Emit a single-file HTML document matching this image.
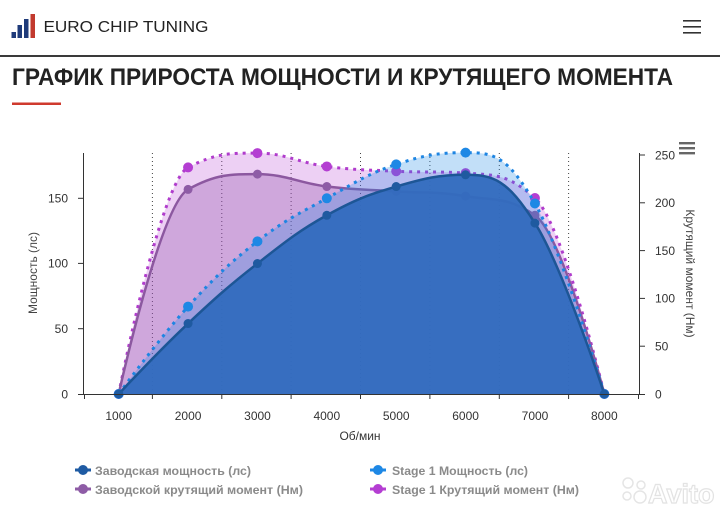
<!DOCTYPE html>
<html><head><meta charset="utf-8">
<style>
html,body{margin:0;padding:0;background:#fff;}
body{width:720px;height:517px;overflow:hidden;position:relative;font-family:"Liberation Sans",sans-serif;}
svg{position:absolute;left:0;top:0;}
</style></head>
<body>
<svg id="s" width="720" height="517" viewBox="0 0 720 517" xmlns="http://www.w3.org/2000/svg" font-family="Liberation Sans, sans-serif">
  <!-- header -->
  <rect x="11.5" y="32" width="4.5" height="6" fill="#1f3b7a"/>
  <rect x="17.5" y="25" width="4.5" height="13" fill="#1f3b7a"/>
  <rect x="24" y="19" width="4.5" height="19" fill="#1f3b7a"/>
  <rect x="30.5" y="14" width="4.5" height="24" fill="#c23a2e"/>
  <text x="43.5" y="32" font-size="15.5" fill="#222" textLength="165" lengthAdjust="spacingAndGlyphs">EURO CHIP TUNING</text>
  <rect x="683" y="20" width="18" height="1.6" fill="#333"/>
  <rect x="683" y="26" width="18" height="1.6" fill="#333"/>
  <rect x="683" y="32" width="18" height="1.6" fill="#333"/>
  <rect x="0" y="55" width="720" height="2" fill="#3a3a3a"/>
  <text x="12" y="85" font-size="24" font-weight="bold" fill="#222" textLength="661" lengthAdjust="spacingAndGlyphs">ГРАФИК ПРИРОСТА МОЩНОСТИ И КРУТЯЩЕГО МОМЕНТА</text>
  <rect x="12" y="102.5" width="49" height="2.5" fill="#cf3a2e"/>

  <!-- grid -->
  <g stroke="#444" stroke-width="1" stroke-dasharray="1,3">
    <line x1="152.4" y1="153" x2="152.4" y2="394"/>
    <line x1="221.8" y1="153" x2="221.8" y2="394"/>
    <line x1="291.1" y1="153" x2="291.1" y2="394"/>
    <line x1="360.5" y1="153" x2="360.5" y2="394"/>
    <line x1="429.9" y1="153" x2="429.9" y2="394"/>
    <line x1="499.3" y1="153" x2="499.3" y2="394"/>
    <line x1="568.6" y1="153" x2="568.6" y2="394"/>
  </g>

  <g id="series"></g>

  <!-- axes -->
  <g stroke="#333" stroke-width="1">
    <line x1="83.5" y1="153" x2="83.5" y2="394"/>
    <line x1="639.5" y1="153" x2="639.5" y2="394"/>
    <line x1="78" y1="394.5" x2="645" y2="394.5"/>
    <line x1="78" y1="328.7" x2="83.5" y2="328.7"/>
    <line x1="78" y1="263.4" x2="83.5" y2="263.4"/>
    <line x1="78" y1="198.3" x2="83.5" y2="198.3"/>
    <line x1="639.5" y1="346.2" x2="645" y2="346.2"/>
    <line x1="639.5" y1="298.4" x2="645" y2="298.4"/>
    <line x1="639.5" y1="250.6" x2="645" y2="250.6"/>
    <line x1="639.5" y1="202.8" x2="645" y2="202.8"/>
    <line x1="639.5" y1="155" x2="645" y2="155"/>
    <line x1="84.5" y1="394" x2="84.5" y2="399"/>
    <line x1="152.4" y1="394" x2="152.4" y2="399"/>
    <line x1="221.8" y1="394" x2="221.8" y2="399"/>
    <line x1="291.1" y1="394" x2="291.1" y2="399"/>
    <line x1="360.5" y1="394" x2="360.5" y2="399"/>
    <line x1="429.9" y1="394" x2="429.9" y2="399"/>
    <line x1="499.3" y1="394" x2="499.3" y2="399"/>
    <line x1="568.6" y1="394" x2="568.6" y2="399"/>
    <line x1="638.5" y1="394" x2="638.5" y2="399"/>
  </g>

  <g font-size="12" fill="#333" text-anchor="end">
    <text x="68" y="398.5">0</text>
    <text x="68" y="333">50</text>
    <text x="68" y="267.7">100</text>
    <text x="68" y="202.6">150</text>
  </g>
  <g font-size="12" fill="#333" text-anchor="start">
    <text x="655" y="398.5">0</text>
    <text x="655" y="350.5">50</text>
    <text x="655" y="302.7">100</text>
    <text x="655" y="254.9">150</text>
    <text x="655" y="207.1">200</text>
    <text x="655" y="159.3">250</text>
  </g>
  <g font-size="12" fill="#333" text-anchor="middle">
    <text x="118.7" y="420">1000</text>
    <text x="188.1" y="420">2000</text>
    <text x="257.5" y="420">3000</text>
    <text x="326.8" y="420">4000</text>
    <text x="396.2" y="420">5000</text>
    <text x="465.6" y="420">6000</text>
    <text x="535" y="420">7000</text>
    <text x="604.3" y="420">8000</text>
    <text x="360" y="440">Об/мин</text>
  </g>
  <text transform="translate(37,273) rotate(-90)" font-size="12" fill="#444" text-anchor="middle">Мощность (лс)</text>
  <text transform="translate(686,273.5) rotate(90)" font-size="12" fill="#444" text-anchor="middle">Крутящий момент (Нм)</text>

  <!-- chart menu -->
  <rect x="679" y="142" width="16" height="2.4" fill="#666"/>
  <rect x="679" y="147" width="16" height="2.4" fill="#666"/>
  <rect x="679" y="152" width="16" height="2.4" fill="#666"/>

  <!-- legend -->
  <g>
    <line x1="75" y1="470" x2="91" y2="470" stroke="#1f5ba3" stroke-width="3"/>
    <circle cx="83" cy="470" r="5" fill="#1f5ba3"/>
    <text x="95" y="475" font-size="12" font-weight="bold" fill="#8a8a8a" textLength="156" lengthAdjust="spacingAndGlyphs">Заводская мощность (лс)</text>
    <line x1="370" y1="470" x2="386" y2="470" stroke="#1e88e5" stroke-width="3"/>
    <circle cx="378" cy="470" r="5" fill="#1e88e5"/>
    <text x="392" y="475" font-size="12" font-weight="bold" fill="#8a8a8a" textLength="136" lengthAdjust="spacingAndGlyphs">Stage 1 Мощность (лс)</text>
    <line x1="75" y1="489" x2="91" y2="489" stroke="#8e5ca6" stroke-width="3"/>
    <circle cx="83" cy="489" r="5" fill="#8e5ca6"/>
    <text x="95" y="494" font-size="12" font-weight="bold" fill="#8a8a8a" textLength="208" lengthAdjust="spacingAndGlyphs">Заводской крутящий момент (Нм)</text>
    <line x1="370" y1="489" x2="386" y2="489" stroke="#b43ed2" stroke-width="3"/>
    <circle cx="378" cy="489" r="5" fill="#b43ed2"/>
    <text x="392" y="494" font-size="12" font-weight="bold" fill="#8a8a8a" textLength="187" lengthAdjust="spacingAndGlyphs">Stage 1 Крутящий момент (Нм)</text>
  </g>

  <!-- watermark -->
  <g opacity="0.9">
    <circle cx="628" cy="483" r="5" fill="#fff" stroke="#e3e3e3" stroke-width="1.5"/>
    <circle cx="641" cy="485" r="4" fill="#fff" stroke="#e3e3e3" stroke-width="1.5"/>
    <circle cx="627" cy="496" r="4" fill="#fff" stroke="#e3e3e3" stroke-width="1.5"/>
    <circle cx="640" cy="497" r="6" fill="#fff" stroke="#e3e3e3" stroke-width="1.5"/>
    <text x="648" y="503" font-size="27" font-weight="bold" fill="#fff" stroke="#e0e0e0" stroke-width="1.2">Avito</text>
  </g>
</svg>
<script>
(function(){
  var NS="http://www.w3.org/2000/svg";
  function X(r){return 84+(r-500)*0.069375;}
  function YL(v){return 394-v*1.3047;}
  function YR(v){return 394-v*0.956;}
  var rpm=[1000,2000,3000,4000,5000,6000,7000,8000];
  function spline(p){
    var n=p.length,sm=1.5,den=2.5,c=[];
    for(var i=0;i<n;i++){
      if(i===0||i===n-1){c.push(null);continue;}
      var x=p[i][0],y=p[i][1],lx=p[i-1][0],ly=p[i-1][1],nx=p[i+1][0],ny=p[i+1][1];
      var lcx=(sm*x+lx)/den,lcy=(sm*y+ly)/den,rcx=(sm*x+nx)/den,rcy=(sm*y+ny)/den;
      if(rcx!==lcx){var k=((rcy-lcy)*(rcx-x))/(rcx-lcx)+y-rcy;lcy+=k;rcy+=k;}
      if(lcy>ly&&lcy>y){lcy=Math.max(ly,y);rcy=2*y-lcy;}else if(lcy<ly&&lcy<y){lcy=Math.min(ly,y);rcy=2*y-lcy;}
      if(rcy>ny&&rcy>y){rcy=Math.max(ny,y);lcy=2*y-rcy;}else if(rcy<ny&&rcy<y){rcy=Math.min(ny,y);lcy=2*y-rcy;}
      c.push([lcx,lcy,rcx,rcy]);
    }
    var d="M"+p[0][0]+" "+p[0][1];
    for(var j=1;j<n;j++){
      var c1=(j-1===0)?p[0]:[c[j-1][2],c[j-1][3]];
      var c2=(j===n-1)?p[j]:[c[j][0],c[j][1]];
      d+=" C"+c1[0]+" "+c1[1]+" "+c2[0]+" "+c2[1]+" "+p[j][0]+" "+p[j][1];
    }
    return d;
  }
  var series=[
    {v:[0,237,252,238,233,231,205,0],y:YR,fill:"rgb(180,60,210)",fo:0.24,line:"#b03ccc",dash:"3,5",lw:3,mk:"#b43ed2",r:5},
    {v:[0,214,230,217,212,207,187,0],y:YR,fill:"rgb(142,80,170)",fo:0.32,line:"#8c58a0",dash:null,lw:2.5,mk:"#8e5ca6",r:4.5},
    {v:[0,67,117,150,176,185,146,0],y:YL,fill:"rgb(30,136,229)",fo:0.27,line:"#1e85e2",dash:"3,5",lw:3,mk:"#1e88e5",r:5},
    {v:[0,54,100,137,159,168,131,0],y:YL,fill:"rgb(50,108,190)",fo:0.95,line:"#1d5696",dash:null,lw:2.5,mk:"#1f5aa0",r:4.5}
  ];
  var g=document.getElementById("series");
  series.forEach(function(s){
    var pts=rpm.map(function(r,i){return [X(r),s.y(s.v[i])];});
    var d=spline(pts);
    var a=document.createElementNS(NS,"path");
    a.setAttribute("d",d+" L"+pts[pts.length-1][0]+" 394 L"+pts[0][0]+" 394 Z");
    a.setAttribute("fill",s.fill);a.setAttribute("fill-opacity",s.fo);
    g.appendChild(a);
    var l=document.createElementNS(NS,"path");
    l.setAttribute("d",d);l.setAttribute("fill","none");l.setAttribute("stroke",s.line);
    l.setAttribute("stroke-width",s.lw);if(s.dash)l.setAttribute("stroke-dasharray",s.dash);
    g.appendChild(l);
    pts.forEach(function(p){
      var c=document.createElementNS(NS,"circle");
      c.setAttribute("cx",p[0]);c.setAttribute("cy",p[1]);c.setAttribute("r",s.r);c.setAttribute("fill",s.mk);
      g.appendChild(c);
    });
  });
})();
</script>
</body></html>
